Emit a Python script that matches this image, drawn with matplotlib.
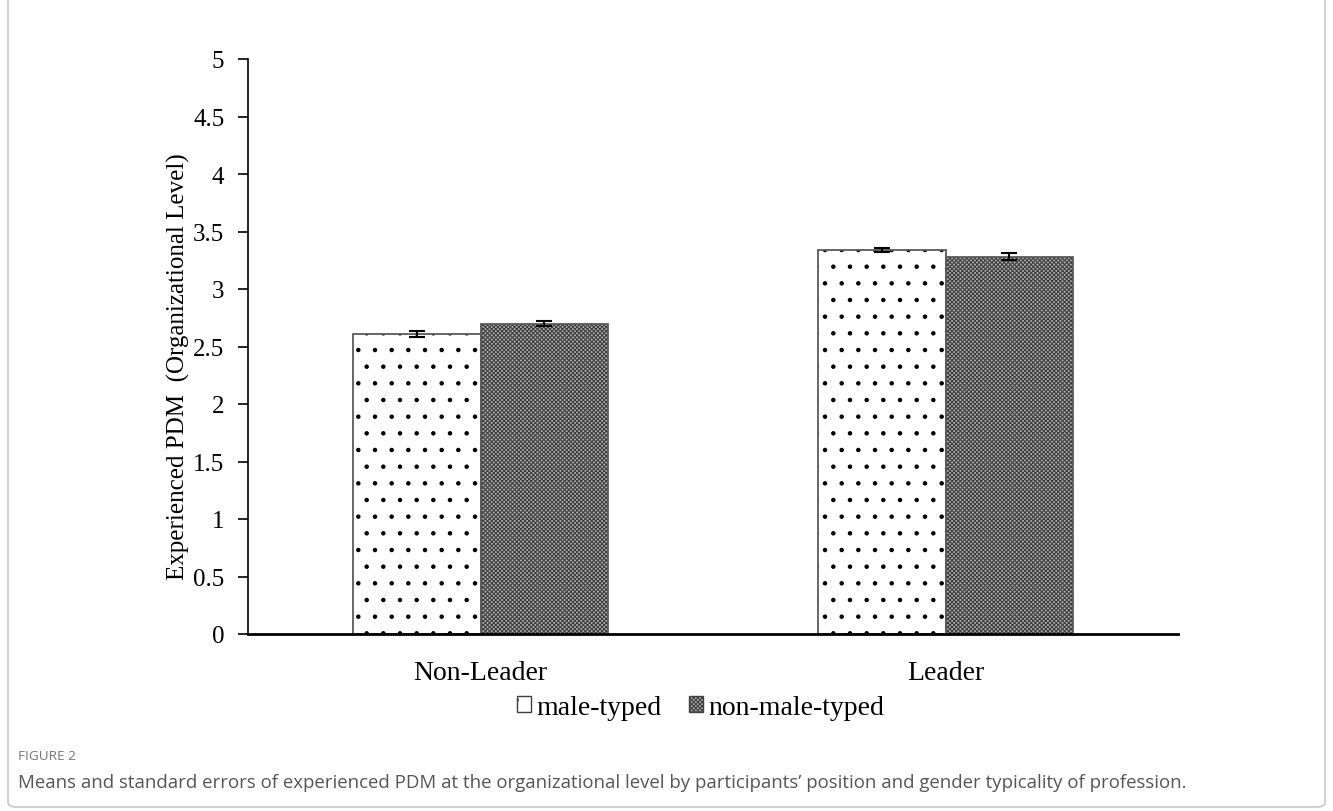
import matplotlib
matplotlib.use("Agg")
import matplotlib.pyplot as plt
import numpy as np
from matplotlib.patches import FancyBboxPatch, Patch

categories = ["Non-Leader", "Leader"]
series = ["male-typed", "non-male-typed"]
male_means = [2.61, 3.34]
male_se = [0.025, 0.02]
nonmale_means = [2.70, 3.28]
nonmale_se = [0.025, 0.03]
yticks = [0, 0.5, 1, 1.5, 2, 2.5, 3, 3.5, 4, 4.5, 5]

serif = ["Liberation Serif", "DejaVu Serif"]
plt.rcParams["hatch.linewidth"] = 0.8

fig = plt.figure(figsize=(13.33, 8.12), dpi=100)
ax = fig.add_axes([248 / 1333, 1 - 635 / 812, 930 / 1333, 575 / 812])

x = np.arange(len(categories))
w = 0.275
# hatch fill drawn first (hatch takes the edge colour), then a gray outline on top
ax.bar(x - w / 2, male_means, w, facecolor="white", edgecolor="black",
       hatch=".", linewidth=0)
ax.bar(x + w / 2, nonmale_means, w, facecolor="#b0b0b0", edgecolor="#404040",
       hatch="xxxxxxxx", linewidth=0)
ax.bar(x - w / 2, male_means, w, facecolor="none", edgecolor="#5a5a5a", linewidth=1.3)
ax.bar(x + w / 2, nonmale_means, w, facecolor="none", edgecolor="#5a5a5a", linewidth=1.3)
ax.errorbar(x - w / 2, male_means, yerr=male_se, fmt="none", ecolor="black",
            elinewidth=1.5, capsize=6, capthick=1.5)
ax.errorbar(x + w / 2, nonmale_means, yerr=nonmale_se, fmt="none", ecolor="black",
            elinewidth=1.5, capsize=6, capthick=1.5)

ax.set_xlim(-0.5, 1.5)
ax.set_ylim(0, 5)
ax.set_yticks(yticks)
ax.set_yticklabels([f"{t:g}" for t in yticks], family=serif, fontsize=18)
ax.set_xticks(x)
ax.set_xticklabels(categories, family=serif, fontsize=20)
ax.tick_params(axis="x", length=0, pad=19)
ax.tick_params(axis="y", length=7, width=1.2, color="black", pad=10)
for s in ["top", "right"]:
    ax.spines[s].set_visible(False)
ax.spines["left"].set_color("black")
ax.spines["left"].set_linewidth(1.2)
ax.spines["bottom"].set_linewidth(2)
ax.set_ylabel("Experienced PDM  (Organizational Level)", family=serif, fontsize=18)
ax.yaxis.set_label_coords(-0.062, 0.466)

handles = [Patch(facecolor="white", edgecolor="#404040", hatch=".", label=series[0]),
           Patch(facecolor="#b0b0b0", edgecolor="#404040", hatch="xxxxxxxx", label=series[1])]
ax.legend(handles=handles, loc="upper center", bbox_to_anchor=(0.487, -0.062), ncol=2,
          frameon=False, prop={"family": serif, "size": 20}, handlelength=0.5,
          handleheight=0.5, handletextpad=0.2, columnspacing=1.0)

# outer frame and caption
frame = FancyBboxPatch((8 / 1333, 4 / 812), 1317 / 1333, 820 / 812,
                       boxstyle="round,pad=0,rounding_size=0.006", transform=fig.transFigure,
                       facecolor="none", edgecolor="#c8c8c8", linewidth=1.2, clip_on=False)
fig.patches.append(frame)
fig.text(18 / 1333, 1 - 757 / 812, "FIGURE 2", fontsize=9.7, color="#777777",
         family="Open Sans", va="center")
fig.text(18 / 1333, 1 - 783 / 812,
         "Means and standard errors of experienced PDM at the organizational level by participants\u2019 position and gender typicality of profession.",
         fontsize=13.4, color="#555555", family="Open Sans", va="center")

fig.savefig("out.png", dpi=100)
